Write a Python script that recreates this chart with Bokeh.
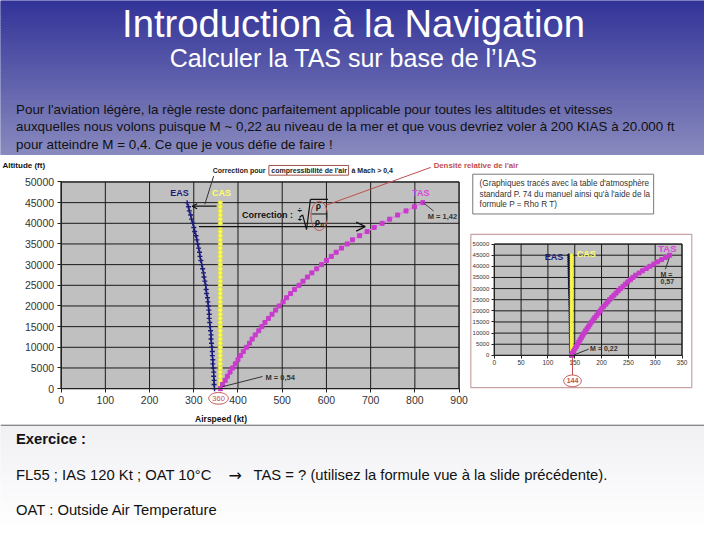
import math
from bokeh.plotting import figure
from bokeh.layouts import column
from bokeh.models import (Range1d, Label, Arrow, OpenHead, BoxAnnotation, PolyAnnotation,
                          FixedTicker, LinearAxis)
from bokeh.embed import file_html
from bokeh.resources import INLINE

# ---------------- data ----------------
altitude_ft = [0, 1000, 2000, 3000, 4000, 5000, 6000, 7000, 8000, 9000,
               10000, 11000, 12000, 13000, 14000, 15000, 16000, 17000, 18000, 19000,
               20000, 21000, 22000, 23000, 24000, 25000, 26000, 27000, 28000, 29000,
               30000, 31000, 32000, 33000, 34000, 35000, 36000, 37000, 38000, 39000,
               40000, 41000, 42000, 43000, 44000, 45000]

main_eas_kt = [347, 346, 346, 345, 345, 344, 343, 343, 342, 342,
               341, 340, 339, 339, 338, 337, 336, 335, 335, 334,
               333, 332, 331, 329, 328, 327, 325, 323, 322, 320,
               318, 316, 314, 313, 311, 309, 307, 305, 302, 300,
               298, 295, 293, 290, 288, 285]
main_cas_kt = [360, 360, 360, 360, 360, 360, 360, 360, 360, 360,
               360, 360, 360, 360, 360, 360, 360, 360, 360, 360,
               360, 360, 360, 360, 360, 360, 360, 360, 360, 360,
               360, 360, 360, 360, 360, 360, 360, 360, 360, 360,
               360, 360, 360, 360, 360, 360]
main_tas_kt = [360, 365, 371, 376, 382, 388, 394, 400, 406, 412,
               419, 426, 432, 439, 447, 454, 461, 469, 477, 485,
               493, 502, 510, 519, 528, 538, 547, 557, 567, 578,
               589, 600, 611, 622, 634, 647, 659, 675, 692, 708,
               726, 743, 761, 780, 799, 818]

inset_eas_kt = [142.5, 142.5, 142.4, 142.4, 142.3, 142.3, 142.2, 142.2, 142.1, 142.1,
                142.0, 142.0, 141.9, 141.9, 141.8, 141.8, 141.7, 141.6, 141.6, 141.5,
                141.4, 141.4, 141.3, 141.2, 141.1, 141.0, 140.9, 140.8, 140.7, 140.6,
                140.5, 140.4, 140.3, 140.2, 140.1, 140.0, 139.9, 139.8, 139.7, 139.6,
                139.5, 139.4, 139.3, 139.2, 139.1, 139.0]
inset_cas_kt = [144, 144, 144, 144, 144, 144, 144, 144, 144, 144,
                144, 144, 144, 144, 144, 144, 144, 144, 144, 144,
                144, 144, 144, 144, 144, 144, 144, 144, 144, 144,
                144, 144, 144, 144, 144, 144, 144, 144, 144, 144,
                144, 144, 144, 144, 144, 144]
inset_tas_kt = [144, 146, 148, 150.5, 153, 155, 157.5, 160, 162.5, 165,
                167.5, 170, 173, 176, 178.5, 181.5, 184.5, 187.5, 191, 194,
                197.5, 200.5, 204, 208, 211.5, 215, 219, 223, 227, 231,
                235.5, 240, 244.5, 249, 254, 258.5, 263.5, 270, 276.5, 283.5,
                290, 297.5, 304.5, 312, 319.5, 327]

main_x_ticks = [0, 100, 200, 300, 400, 500, 600, 700, 800, 900]
main_y_ticks = [0, 5000, 10000, 15000, 20000, 25000, 30000, 35000, 40000, 45000, 50000]
inset_x_ticks = [0, 50, 100, 150, 200, 250, 300, 350]
inset_y_ticks = [0, 5000, 10000, 15000, 20000, 25000, 30000, 35000, 40000, 45000, 50000]

FONT = "Liberation Sans"
NAVY = "#1c1c78"
YEL = "#ffff55"
MAG = "#c83ccc"
RED = "#c0504d"
SX, SY = 704 / 720, 524 / 540   # slide scale


def lerp_col(c0, c1, t):
    return "#%02x%02x%02x" % tuple(int(round(a + (b - a) * t)) for a, b in zip(c0, c1))


def lab(p, x, y, text, size, color="#222222", align="left", bold=False, font=FONT):
    p.add_layout(Label(x=x, y=y, text=text, text_font=font, text_font_size=size,
                       text_color=color, text_align=align, text_baseline="middle",
                       text_font_style="bold" if bold else "normal"))


def seg(p, x0, y0, x1, y1, color="#333333", width=1, head=False, hsize=6):
    p.add_layout(Arrow(x_start=x0, y_start=y0, x_end=x1, y_end=y1, line_color=color,
                       line_width=width,
                       end=OpenHead(size=hsize, line_color=color, line_width=width) if head else None))


def ell(p, cx, cy, rx, ry, fx, fy, color=RED, n=48):
    xs = [fx(cx + rx * math.cos(2 * math.pi * k / n)) for k in range(n)]
    ys = [fy(cy + ry * math.sin(2 * math.pi * k / n)) for k in range(n)]
    p.add_layout(PolyAnnotation(xs=xs, ys=ys, fill_color=None, line_color=color,
                                line_alpha=1, line_width=1))


def bare(w, h):
    p = figure(width=w, height=h, x_range=Range1d(0, w), y_range=Range1d(h, 0),
               x_axis_location=None, y_axis_location=None, min_border=0,
               output_backend="svg", toolbar_location=None)
    p.grid.visible = False
    p.outline_line_color = None
    return p


def make_axis(ticks, bounds, fs, tick, rn=None):
    kw = {"x_range_name": rn[0], "y_range_name": rn[1]} if rn else {}
    ax = LinearAxis(ticker=FixedTicker(ticks=ticks), bounds=bounds, fixed_location=0, **kw)
    ax.major_label_text_font = FONT
    ax.major_label_text_font_size = fs
    ax.major_label_text_color = "#333333"
    ax.axis_line_color = "#222222"
    ax.major_tick_line_color = "#222222"
    ax.major_tick_out = tick
    ax.major_tick_in = 0
    ax.minor_tick_out = 0
    ax.minor_tick_in = 0
    ax.major_label_standoff = tick - 1
    return ax


# ---------------- header ----------------
HW, HH = 704, 155
ph = bare(HW, HH)
n = 62
tops = [HH * i / n for i in range(n)]
bots = [HH * (i + 1) / n for i in range(n)]
cols = [lerp_col((50, 51, 152), (137, 138, 190), (i + 0.5) / n) for i in range(n)]
ph.quad(left=0, right=HW, top=tops, bottom=bots, fill_color=cols, line_color=cols)
lab(ph, 353, 23, "Introduction à la Navigation", "38.2px", "white", "center")
lab(ph, 353, 57.5, "Calculer la TAS sur base de l’IAS", "25px", "white", "center")
para = ["Pour l'aviation légère, la règle reste donc parfaitement applicable pour toutes les altitudes et vitesses",
        "auxquelles nous volons puisque M ~ 0,22 au niveau de la mer et que vous devriez voler à 200 KIAS à 20.000 ft",
        "pour atteindre M = 0,4. Ce que je vous défie de faire !"]
for i, t in enumerate(para):
    lab(ph, 15.5, 108.5 + 17.5 * i, t, "13.4px", "#111111")

# ---------------- middle: main chart + inset ----------------
MW, MH = 704, 269


def mx(px):          # slide pixel -> main chart airspeed
    return (px - 62) / (407 / 900)


def my(py):          # slide pixel -> main chart altitude
    return (400 - py) / 213 * 50000


def ix(px):          # slide pixel -> inset airspeed
    return (px - 505) / (192 / 350)


def iy(py):          # slide pixel -> inset altitude
    return (365.7 - py) / 114.7 * 50000


top_ref, bot_ref, right_ref = 155 / SY, (155 + MH) / SY, MW / SX
pm = figure(width=MW, height=MH,
            x_range=Range1d(mx(0), mx(right_ref)),
            y_range=Range1d(my(bot_ref), my(top_ref)),
            x_axis_location=None, y_axis_location=None,
            min_border=0, output_backend="svg", toolbar_location=None)
pm.extra_x_ranges = {"ix": Range1d(ix(0), ix(right_ref))}
pm.extra_y_ranges = {"iy": Range1d(iy(bot_ref), iy(top_ref))}
pm.background_fill_color = "white"
pm.border_fill_color = "white"
pm.outline_line_color = None
pm.grid.visible = False

# main chart
pm.quad(left=0, right=900, bottom=0, top=50000, fill_color="#c0c0c0", line_color="#222222")
pm.segment(x0=main_x_ticks, y0=0, x1=main_x_ticks, y1=50000, line_color="#1a1a1a", line_width=1)
pm.segment(x0=0, y0=main_y_ticks, x1=900, y1=main_y_ticks, line_color="#1a1a1a", line_width=1)
pm.add_layout(make_axis(main_x_ticks, (0, 900), "10.5px", 4), "below")
pm.add_layout(make_axis(main_y_ticks, (0, 50000), "10.5px", 4), "left")

pm.line(main_eas_kt, altitude_ft, line_color=NAVY, line_width=1.2)
pm.scatter(main_eas_kt, altitude_ft, marker="cross", size=5, line_color=NAVY, line_width=1.4)
pm.line(main_cas_kt, altitude_ft, line_color="#f2f24a", line_width=2)
pm.scatter(main_cas_kt, altitude_ft, marker="circle", size=4, fill_color=YEL, line_color="#e8e840")
pm.line(main_tas_kt, altitude_ft, line_color="#e47ee8", line_width=1.3)
pm.scatter(main_tas_kt, altitude_ft, marker="square", size=4, fill_color=MAG, line_color=MAG)

# inset chart
IR = {"x_range_name": "ix", "y_range_name": "iy"}
pm.quad(left=0, right=350, bottom=0, top=50000, fill_color="#c0c0c0", line_color="#222222", **IR)
pm.segment(x0=inset_x_ticks, y0=0, x1=inset_x_ticks, y1=50000, line_color="#1a1a1a", line_width=1, **IR)
pm.segment(x0=0, y0=inset_y_ticks, x1=350, y1=inset_y_ticks, line_color="#1a1a1a", line_width=1, **IR)
pm.add_layout(make_axis(inset_x_ticks, (0, 350), "6.5px", 3, ("ix", "iy")), "below")
pm.add_layout(make_axis(inset_y_ticks, (0, 50000), "6px", 3, ("ix", "iy")), "left")

pm.line(inset_eas_kt, altitude_ft, line_color=NAVY, line_width=1.5, **IR)
pm.scatter(inset_eas_kt, altitude_ft, marker="circle", size=2.5, fill_color="#101040", line_color="#101040", **IR)
pm.line(inset_cas_kt, altitude_ft, line_color="#f6f64a", line_width=3, **IR)
pm.scatter(inset_cas_kt, altitude_ft, marker="circle", size=3, fill_color=YEL, line_color="#eeee44", **IR)
pm.line(inset_tas_kt, altitude_ft, line_color="#e47ee8", line_width=1.5, **IR)
pm.scatter(inset_tas_kt, altitude_ft, marker="square", size=4, fill_color=MAG, line_color=MAG, **IR)

# main chart annotations
lab(pm, mx(2), my(170), "Altitude (ft)", "8px", "#111111", bold=True)
lab(pm, mx(199), my(431), "Airspeed (kt)", "8.5px", "#111111", bold=True)
lab(pm, mx(183), my(198), "EAS", "9px", NAVY, "center", True)
lab(pm, mx(226), my(198), "CAS", "9px", "#ffff66", "center", True)
lab(pm, mx(430), my(198), "TAS", "9px", "#dd44dd", "center", True)

lab(pm, mx(217), my(175), "Correction pour", "7px", "#222222", bold=True)
lab(pm, mx(277), my(175), "compressibilité de l'air", "7px", "#222222", bold=True)
lab(pm, mx(359), my(175), "à Mach > 0,4", "7px", "#222222", bold=True)
pm.add_layout(BoxAnnotation(left=mx(274.5), right=mx(356), top=my(170), bottom=my(180),
                            fill_color=None, line_color="#a0524d", line_alpha=1, line_width=1))
seg(pm, mx(218), my(181), mx(209), my(210))
seg(pm, mx(221), my(212), mx(196), my(212), "#111111", 1.2, True, 5)
seg(pm, mx(203), my(233), mx(373), my(233), "#111111", 1.3, True, 9)

lab(pm, mx(247), my(221.5), "Correction :", "9px", "#111111", bold=True)
lab(pm, mx(306), my(216), "÷", "8px", "#111111", "center", True)
lab(pm, mx(306), my(226), "+", "7px", "#111111", "center", True)
sq = [(306, 223), (309, 221), (313, 236), (317, 205), (335, 205)]
for (ax_, ay_), (bx_, by_) in zip(sq[:-1], sq[1:]):
    seg(pm, mx(ax_), my(ay_), mx(bx_), my(by_), "#111111", 1.2)
seg(pm, mx(318), my(220), mx(334), my(220), "#111111", 1)
lab(pm, mx(325), my(212), "ρ", "8.5px", "#111111", "center", True)
lab(pm, mx(324), my(228.5), "ρ", "8.5px", "#111111", "center", True)
lab(pm, mx(329), my(231), "0", "6px", "#111111", "center", True)
ell(pm, 326, 222, 8.5, 15, mx, my)
seg(pm, mx(333), my(211), mx(440), my(172), RED, 1)
lab(pm, mx(443), my(170), "Densité relative de l'air", "7.8px", RED, bold=True)

seg(pm, mx(432), my(208), mx(443), my(217), "#444444", 1)
lab(pm, mx(437), my(223), "M = 1,42", "7.5px", "#333333", bold=True)
seg(pm, mx(227), my(398), mx(268), my(387.5), "#333333", 1)
lab(pm, mx(271), my(388), "M = 0,54", "7.5px", "#333333", bold=True)
ell(pm, 223, 410, 10, 6, mx, my)
lab(pm, mx(223), my(410), "360", "7.5px", RED, "center")

# right-hand annotations (note box, inset frame and labels)
pm.add_layout(BoxAnnotation(left=mx(483), right=mx(668), top=my(179), bottom=my(220),
                            fill_color="white", fill_alpha=1, line_color="#777777",
                            line_alpha=1, line_width=1))
note = ["(Graphiques tracés  avec la table d'atmosphère",
        "standard P. 74 du manuel ainsi qu'à l'aide de la",
        "formule P = Rho R T)"]
for i, t in enumerate(note):
    lab(pm, mx(490), my(188.5 + 11 * i), t, "8.2px", "#333333")
pm.add_layout(BoxAnnotation(left=mx(481), right=mx(707), top=my(241), bottom=my(399),
                            fill_color=None, line_color="#c9a3a3", line_alpha=1, line_width=1.2))

lab(pm, mx(566), my(264), "EAS", "9px", NAVY, "center", True)
lab(pm, mx(599), my(261), "CAS", "9px", "#ffff66", "center", True)
lab(pm, mx(682), my(256), "TAS", "9.5px", "#dd44dd", "center", True)
seg(pm, mx(684), my(265), mx(680), my(277), "#333333", 1)
lab(pm, mx(675), my(282), "M =", "7px", "#333333", bold=True)
lab(pm, mx(675), my(290), "0,57", "7px", "#333333", bold=True)
seg(pm, mx(586), my(365.5), mx(601.5), my(359.3), "#333333", 1)
lab(pm, mx(603), my(358.7), "M = 0,22", "7px", "#333333", bold=True)
seg(pm, mx(585), my(368), mx(585), my(386), RED, 1)
ell(pm, 585, 392, 9, 6, mx, my)
lab(pm, mx(585), my(392), "144", "7px", RED, "center", True)

# ---------------- bottom ----------------
BW, BH = 704, 100
pb = bare(BW, BH)
n2 = 40
tops2 = [BH * i / n2 for i in range(n2)]
bots2 = [BH * (i + 1) / n2 for i in range(n2)]
cols2 = [lerp_col((240, 240, 243), (254, 254, 255), (i + 0.5) / n2) for i in range(n2)]
pb.quad(left=0, right=BW, top=tops2, bottom=bots2, fill_color=cols2, line_color=cols2)
pb.quad(left=0, right=BW, top=0, bottom=1.2, fill_color="#6a6a6a", line_color=None)
lab(pb, 15.5, 14.5, "Exercice :", "14.8px", "#111111", bold=True)
lab(pb, 15.5, 50.5, "FL55 ; IAS 120 Kt ; OAT 10°C", "14.8px", "#111111")
lab(pb, 228, 50.5, "→", "16px", "#111111", font="DejaVu Sans")
lab(pb, 253, 50.5, "TAS = ? (utilisez la formule vue à la slide précédente).", "14.8px", "#111111")
lab(pb, 15.5, 85.5, "OAT : Outside Air Temperature", "14.8px", "#111111")

layout = column(ph, pm, pb)
open("out.html", "w").write(file_html(layout, INLINE))
